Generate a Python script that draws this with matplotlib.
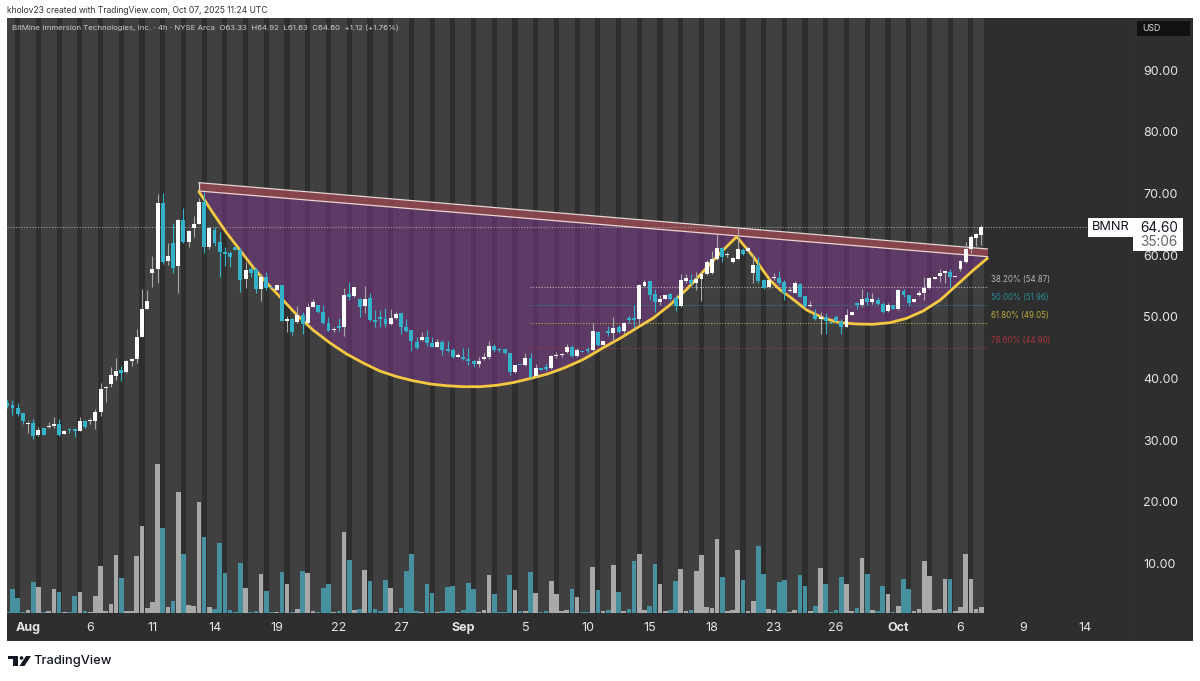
import numpy as np
import matplotlib
matplotlib.use('Agg')
import matplotlib.pyplot as plt
from matplotlib.patches import Rectangle, Polygon, Circle

plt.rcParams['font.family'] = ['Inter', 'DejaVu Sans']

# 4h candles
opens = [35.99,35.72,35.18,34.37,32.70,32.75,30.81,31.94,32.21,32.37,
         32.64,31.07,31.83,31.83,31.56,33.13,33.07,33.13,34.58,38.42,
         39.06,40.41,41.33,41.00,42.84,43.11,46.68,51.27,57.16,57.75,
         68.50,59.05,61.91,58.24,65.69,62.12,64.45,65.09,68.66,61.37,
         64.07,62.12,60.45,60.29,61.26,60.88,56.08,57.70,57.70,54.46,
         56.40,54.89,54.35,55.10,49.38,49.60,49.22,50.30,48.95,51.65,
         51.87,50.79,48.95,47.87,48.57,48.41,53.65,53.38,52.95,51.81,
         53.05,49.49,50.03,49.65,48.84,49.76,50.57,48.41,47.92,45.93,
         46.19,46.74,45.76,45.17,45.87,44.74,44.63,43.55,43.55,43.23,
         42.85,42.36,43.12,43.50,45.28,44.79,44.74,44.09,41.12,42.25,
         42.20,43.33,40.47,41.77,41.93,41.66,43.66,43.82,44.36,45.17,
         43.71,44.52,44.79,44.63,47.60,45.49,47.76,47.44,48.30,47.71,
         49.76,49.76,49.60,55.00,55.75,53.70,52.41,52.89,53.70,53.00,
         51.76,55.86,56.02,55.54,56.13,56.89,57.05,59.37,61.21,59.97,
         58.89,59.37,60.83,60.67,57.16,58.40,55.92,54.78,56.35,56.35,
         55.59,54.19,53.92,55.32,53.38,51.76,50.35,49.71,49.92,49.22,
         50.03,49.22,48.41,50.25,52.19,51.87,53.00,52.41,52.73,52.08,
         50.89,51.97,51.22,54.24,53.49,52.41,53.59,53.81,54.67,56.19,
         56.62,57.16,57.27,56.51,57.75,58.94,60.94,62.72,63.33]
closes = [35.56,35.23,34.21,33.13,32.86,30.70,31.67,30.86,32.37,32.59,
          30.86,31.56,31.67,31.56,33.13,32.21,33.29,34.58,38.36,38.69,
          40.52,41.27,40.95,42.84,43.11,46.68,51.27,52.62,57.75,68.50,
          58.94,59.91,57.91,65.69,62.12,63.91,65.09,68.66,61.37,64.45,
          62.02,60.50,60.18,59.75,60.88,55.97,57.59,57.05,54.46,56.40,
          54.62,54.62,55.21,49.38,49.60,47.49,50.30,48.84,51.65,52.41,
          50.79,48.95,47.76,47.98,48.25,53.59,53.27,54.78,51.65,52.95,
          49.49,49.22,49.65,48.84,49.87,50.46,48.41,47.76,46.09,44.90,
          46.68,45.71,45.17,45.98,44.63,44.52,43.55,43.77,43.17,42.85,
          42.36,42.90,43.55,45.28,44.63,44.63,44.09,41.12,42.15,42.15,
          43.33,40.31,41.77,41.39,41.50,43.60,43.77,43.98,45.17,43.66,
          44.63,44.31,44.47,47.71,45.44,46.03,47.44,48.19,47.55,49.06,
          49.49,49.49,55.16,55.65,53.59,52.41,52.95,53.49,52.84,51.76,
          55.92,56.24,55.43,56.13,56.89,58.94,59.37,61.10,59.75,60.07,
          59.48,60.94,60.13,61.10,58.35,55.75,54.73,55.97,56.51,55.43,
          53.92,54.35,55.43,53.27,51.76,51.92,49.65,50.03,49.38,48.95,
          49.38,48.30,50.25,50.79,51.87,52.95,52.41,52.95,52.03,50.84,
          51.87,51.27,54.30,53.49,52.19,52.84,53.92,54.67,56.24,56.40,
          57.16,57.37,56.51,56.67,58.99,60.94,62.99,63.42,64.60]
highs = [36.53,36.53,36.10,34.37,33.18,33.45,32.10,31.94,32.91,33.72,
         33.50,31.67,31.94,31.94,33.83,33.29,33.56,35.12,39.23,38.80,
         41.93,43.38,42.03,43.00,43.28,48.03,54.46,54.35,59.86,69.85,
         70.01,61.91,65.15,65.80,67.58,64.07,66.34,69.20,70.28,64.61,
         64.61,63.80,61.37,60.67,61.26,61.10,58.94,58.02,57.86,56.94,
         57.21,54.89,55.21,55.10,50.14,49.76,51.76,50.84,52.30,52.95,
         51.97,51.92,50.03,48.41,49.76,54.67,55.70,54.89,53.00,55.00,
         53.81,51.11,51.11,51.38,51.22,50.84,50.57,49.60,47.92,46.68,
         47.60,47.87,46.79,46.36,46.25,46.14,44.90,44.20,44.90,44.90,
         43.01,43.55,44.09,46.03,45.60,44.90,44.85,44.20,42.25,42.25,
         44.20,44.09,42.36,41.77,42.47,43.82,44.36,44.20,45.60,45.44,
         44.90,44.52,45.06,49.06,47.76,46.03,48.52,50.03,48.68,49.22,
         50.30,51.92,55.32,55.97,55.86,54.46,53.59,53.49,53.81,53.54,
         56.94,56.94,56.94,57.21,57.32,59.21,60.72,63.42,61.37,60.56,
         59.64,64.34,61.10,61.26,60.02,59.75,56.08,56.13,57.05,57.48,
         55.97,54.78,55.86,55.43,53.38,52.62,51.33,50.84,50.57,49.22,
         50.30,49.60,51.22,50.79,52.46,54.46,54.08,53.81,53.16,52.46,
         52.19,51.97,54.46,54.46,53.59,52.84,54.35,56.40,56.51,56.40,
         57.70,57.43,57.70,56.67,59.21,62.07,63.26,63.53,64.92]
lows = [35.18,34.04,33.94,32.64,31.13,30.27,30.70,30.86,31.94,31.94,
        30.70,31.02,31.13,30.59,31.45,31.94,32.64,31.78,33.94,36.25,
        38.69,39.77,39.66,40.95,42.03,42.47,46.68,51.27,54.78,55.43,
        58.56,58.40,57.05,53.92,61.91,61.26,62.99,65.04,60.29,60.94,
        61.48,56.40,58.24,58.13,60.88,54.08,54.62,56.51,53.92,52.62,
        54.35,54.62,54.35,49.38,47.60,47.01,48.95,47.22,48.84,51.54,
        50.57,48.84,47.65,47.55,47.76,46.90,52.73,53.27,50.03,50.57,
        49.27,48.41,48.41,48.41,48.68,49.60,47.22,47.55,44.52,44.74,
        46.14,45.28,45.06,45.06,43.82,44.31,43.39,43.44,43.01,42.15,
        41.82,41.93,43.01,43.12,44.31,44.36,43.98,40.58,40.85,42.15,
        42.04,40.04,40.31,41.39,41.28,41.55,43.28,43.55,44.20,43.55,
        43.55,44.31,44.20,44.52,45.28,45.49,46.90,46.25,47.33,47.33,
        48.95,48.14,48.68,54.89,52.73,50.84,51.92,52.89,52.73,50.95,
        51.54,55.54,55.16,54.35,52.57,56.78,56.94,59.21,58.94,59.75,
        58.78,59.32,60.02,60.56,55.54,55.54,54.57,54.73,55.97,55.16,
        52.73,54.03,53.81,53.16,51.38,51.65,49.49,47.17,47.22,48.95,
        49.22,47.22,48.30,50.25,51.22,51.65,51.92,52.08,51.92,50.68,
        50.79,51.27,51.11,53.16,51.81,52.41,53.38,52.73,54.57,56.19,
        55.70,55.43,54.78,56.51,57.48,58.78,60.29,61.48,61.63]
# volume, relative units
volumes = [2,70,45,3,8,93,76,2,4,70,
           62,3,3,49,61,5,3,50,141,6,
           26,173,103,6,6,170,261,14,33,445,
           255,18,34,362,177,22,21,332,226,17,
           11,209,120,7,3,148,74,3,6,115,
           65,3,3,121,85,3,10,124,118,5,
           3,75,85,3,5,241,157,8,11,128,
           95,10,6,99,74,3,15,125,177,6,
           3,85,58,3,5,78,81,3,8,90,
           70,3,8,113,55,3,3,113,69,4,
           6,123,58,2,5,94,55,4,9,70,
           48,2,3,138,68,4,8,142,61,5,
           10,155,175,9,20,145,86,5,9,94,
           130,6,9,124,173,18,14,221,106,6,
           7,188,97,5,36,200,116,10,8,92,
           99,3,8,113,81,6,20,135,86,2,
           8,107,87,4,13,165,117,8,5,79,
           57,2,20,101,72,6,10,156,111,8,
           10,101,101,4,16,175,101,11,17]

# yellow cup and handle curve (bar number, price)
curve_bars = [37.0,39.7,42.35,44.9,47.4,50.1,53.2,55.9,59.0,62.3,65.5,68.7,71.9,75.2,78.3,
              81.6,84.8,88.0,91.3,94.5,97.6,100.9,104.1,107.3,110.6,111.9,115.0,118.3,
              121.5,124.7,127.9,131.2,134.3,137.6,140.8,144.0,147.2,149.2,151.1,154.3,
              157.5,160.7,164.0,167.1,170.4,173.6,176.8,180.1,183.3,186.5,189.2]
curve_prices = [70.28,66.83,63.59,60.83,58.08,55.48,52.73,50.30,47.87,45.76,43.98,42.52,41.22,
                40.30,39.65,39.12,38.84,38.68,38.68,38.91,39.33,40.00,40.70,41.65,42.87,43.43,
                44.98,46.52,48.19,49.81,51.92,54.51,57.31,60.34,62.99,59.75,55.97,54.35,53.22,
                51.11,49.81,49.05,48.84,48.79,49.05,49.76,50.95,52.73,55.16,57.59,59.49]

# neckline band end points
band_bars = [37.0, 189.2]
band_upper = [71.74, 61.00]
band_lower = [70.39, 59.75]

fib_levels = [54.87, 51.96, 49.05, 44.90]
fib_labels = ['38.20% (54.87)', '50.00% (51.96)', '61.80% (49.05)', '78.60% (44.90)']
fib_colors = ['#b5b5b5', '#2b8a9a', '#b9a83a', '#a8343f']
fib_start = 100.9
fib_end = 189.2

last_price = 64.60
price_ticks = [90, 80, 70, 60, 50, 40, 30, 20, 10]
date_ticks = [4, 16, 28, 40, 52, 64, 76, 88, 100, 112, 124, 136, 148, 160, 172, 184, 196, 208]
date_labels = ['Aug', '6', '11', '14', '19', '22', '27', 'Sep', '5', '10', '15', '18', '23', '26', 'Oct', '6', '9', '14']

W, H = 1200, 681
BG = '#2e2e2e'
LIGHT = '#404040'
TEAL = '#33b2c9'
VOL_TEAL = '#47909f'
VOL_GRAY = '#a9a9a9'

opens = np.array(opens)
closes = np.array(closes)
highs = np.array(highs)
lows = np.array(lows)
bars = np.arange(len(opens))
up = closes >= opens

fig = plt.figure(figsize=(W / 100, H / 100), dpi=100, facecolor='white')

# frame, logo and header live in pixel coordinates
ax_bg = fig.add_axes([0, 0, 1, 1], zorder=0)
ax_bg.set_xlim(0, W)
ax_bg.set_ylim(H, 0)
ax_bg.axis('off')
ax_bg.add_patch(Rectangle((7, 18), 1186, 623, color=BG, lw=0))
ax_bg.plot([1133, 1133], [18, 640], color='#333333', lw=0.8, solid_capstyle='butt')
ax_bg.text(7, 10.5, 'kholov23 created with TradingView.com, Oct 07, 2025 11:24 UTC',
           color='#333333', fontsize=6.1, va='center')
ax_bg.add_patch(Rectangle((7.5, 656), 10, 3.3, color='#131722', lw=0))
ax_bg.add_patch(Rectangle((12.5, 656), 5, 10, color='#131722', lw=0))
ax_bg.add_patch(Circle((21.5, 658), 1.8, color='#131722', lw=0))
ax_bg.add_patch(Polygon([(26, 656), (31, 656), (24.5, 666), (19.5, 666)], color='#131722', lw=0))
ax_bg.text(33, 661, 'TradingView', color='#131722', fontsize=9.3, fontweight='medium', va='center')

pos = [7 / W, 1 - 612.7 / H, (1133 - 7) / W, (612.7 - 18) / H]
xlim = (-0.06, 217.3)

# sessions and volume
ax_vol = fig.add_axes(pos, zorder=1)
ax_vol.patch.set_alpha(0)
ax_vol.set_xlim(*xlim)
ax_vol.set_ylim(0, 1784)
ax_vol.axis('off')
ax_vol.axvspan(-0.5, 188.5, color=LIGHT, lw=0, zorder=0)
for b in bars:
    if b % 4 == 2:
        ax_vol.axvspan(b - 0.5, b + 0.5, color=BG, lw=0, zorder=1)
ax_vol.bar(bars, volumes, width=0.9, color=[VOL_GRAY if u else VOL_TEAL for u in up], zorder=2)

# price panel
ax = fig.add_axes(pos, zorder=2)
ax.patch.set_alpha(0)
ax.set_xlim(*xlim)
ax.set_ylim(90 - (612.7 - 70) / 6.171, 90 + (70 - 18) / 6.171)
for s in ax.spines.values():
    s.set_visible(False)

lower_at_curve = np.interp(curve_bars, band_bars, band_lower)
ax.fill_between(curve_bars, curve_prices, lower_at_curve, color='#733681', alpha=0.6, lw=0, zorder=2)
ax.fill_between(band_bars, band_lower, band_upper, color='#94464f', alpha=0.85, lw=0, zorder=2)
ax.plot(band_bars, band_upper, color='#e8d5d5', lw=0.9, zorder=3)
ax.plot(band_bars, band_lower, color='#e8d5d5', lw=0.9, zorder=3)
ax.plot([band_bars[0], band_bars[0]], [band_lower[0], band_upper[0]], color='#e8d5d5', lw=0.9, zorder=3)

ax.axhline(last_price, xmax=(1088 - 7) / (1133 - 7), color='#9a9a9a', lw=0.8, ls=(0, (1, 1.5)), zorder=2.5)
for level, label, c in zip(fib_levels, fib_labels, fib_colors):
    ax.plot([fib_start, fib_end], [level, level], color=c, lw=0.8, ls=(0, (1, 1.5)), zorder=2.5)
    ax.annotate(label, (fib_end + 0.7, level), xytext=(0, 5.4), textcoords='offset points',
                color=c, fontsize=5.7, va='center')

ax.plot(curve_bars, curve_prices, color='#f5c842', lw=2, zorder=3.5, solid_capstyle='round')

# candles
candle_colors = ['#ffffff' if u else TEAL for u in up]
wick_colors = ['#a8a8a8' if u else TEAL for u in up]
ax.vlines(bars, lows, highs, color=wick_colors, lw=0.8, zorder=4)
body_low = np.minimum(opens, closes)
body_h = np.maximum(np.abs(closes - opens), 0.15)
ax.bar(bars, body_h, bottom=body_low, width=0.76, color=candle_colors, lw=0, zorder=5)

ax.yaxis.tick_right()
ax.set_yticks(price_ticks)
ax.set_yticklabels(['%.2f' % p for p in price_ticks])
ax.set_xticks(date_ticks)
ax.set_xticklabels(date_labels)
ax.tick_params(axis='both', length=0, labelcolor='#e6e6e6', labelsize=9)
ax.tick_params(axis='y', pad=7.2)
ax.tick_params(axis='x', pad=7)
for t in ax.get_xticklabels():
    if t.get_text() in ('Aug', 'Sep', 'Oct'):
        t.set_fontweight('bold')

# header and price labels above everything
ax_top = fig.add_axes([0, 0, 1, 1], zorder=3)
ax_top.patch.set_alpha(0)
ax_top.set_xlim(0, W)
ax_top.set_ylim(H, 0)
ax_top.axis('off')
ax_top.text(12, 28, 'BitMine Immersion Technologies, Inc. · 4h · NYSE Arca  O63.33  H64.92  L61.63  C64.60  +1.12 (+1.76%)',
            color='#cccccc', fontsize=5.65, va='center')
ax_top.add_patch(Rectangle((1137, 21), 53, 15, color='#111111', lw=0))
ax_top.text(1142, 28.5, 'USD', color='#d8d8d8', fontsize=6.3, va='center')
ax_top.add_patch(Rectangle((1088, 218), 45, 19, color='white', lw=0))
ax_top.add_patch(Rectangle((1133, 218), 50, 33, color='white', lw=0))
ax_top.text(1110.5, 227.5, 'BMNR', color='#131722', fontsize=9.2, ha='center', va='center')
ax_top.text(1159, 227.5, '64.60', color='#131722', fontsize=9.8, ha='center', va='center')
ax_top.text(1159, 242, '35:06', color='#666666', fontsize=9.8, ha='center', va='center')

fig.savefig('out.png', dpi=100, facecolor='white')
